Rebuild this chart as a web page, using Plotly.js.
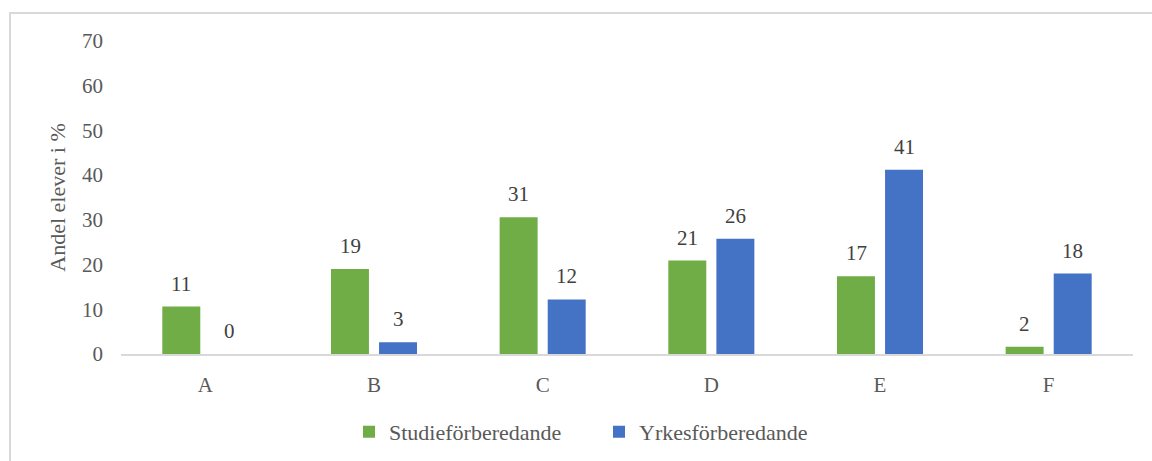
<!DOCTYPE html>
<html>
<head>
<meta charset="utf-8">
<script src="https://cdn.plot.ly/plotly-3.0.1.min.js"></script>
<style>
html,body{margin:0;padding:0;background:#fff;overflow:hidden;}
#frame{position:absolute;left:9px;top:12px;width:1300px;height:600px;border-left:2px solid #d9d9d9;border-top:2px solid #d9d9d9;box-sizing:border-box;}
#chart{position:absolute;left:0;top:0;width:1152px;height:461px;}
</style>
</head>
<body>
<div id="frame"></div>
<div id="chart"></div>
<script>
const categories = ["A", "B", "C", "D", "E", "F"];
const studie = [10.6, 19.0, 30.6, 20.9, 17.4, 1.6];
const yrkes = [0.0, 2.6, 12.2, 25.8, 41.2, 18.0];
const studieName = "Studieförberedande";
const yrkesName = "Yrkesförberedande";
const yTicks = [0, 10, 20, 30, 40, 50, 60, 70];

const FONT = "Liberation Serif, Times New Roman, serif";
const TXT = "#595959";
const FS = 21;

const traces = [
  {type: "bar", name: studieName, x: categories, y: studie,
   marker: {color: "#70AD47", line: {width: 0}}, hoverinfo: "y"},
  {type: "bar", name: yrkesName, x: categories, y: yrkes,
   marker: {color: "#4472C4", line: {width: 0}}, hoverinfo: "y"}
];

const annotations = [];
categories.forEach((c, i) => {
  annotations.push({x: c, y: studie[i], xref: "x", yref: "y", text: String(Math.round(studie[i])),
    showarrow: false, xshift: -24, yshift: 9, yanchor: "bottom",
    font: {family: FONT, size: FS, color: "#404040"}});
  annotations.push({x: c, y: yrkes[i], xref: "x", yref: "y", text: String(Math.round(yrkes[i])),
    showarrow: false, xshift: 24, yshift: 9, yanchor: "bottom",
    font: {family: FONT, size: FS, color: "#404040"}});
});

const layout = {
  width: 1152, height: 461,
  margin: {l: 121, r: 19, t: 41, b: 107, autoexpand: false},
  paper_bgcolor: "rgba(0,0,0,0)", plot_bgcolor: "rgba(0,0,0,0)",
  font: {family: FONT, size: FS, color: TXT},
  barmode: "group", bargap: 0.43, bargroupgap: 0.21,
  showlegend: true,
  legend: {orientation: "h", x: 0.2253, xanchor: "left", y: -0.249, yanchor: "middle",
    font: {family: FONT, size: 22, color: TXT}, entrywidth: 205, itemwidth: 30},
  xaxis: {showline: true, linecolor: "#d9d9d9", linewidth: 2, ticks: "", showgrid: false,
    tickfont: {family: FONT, size: FS, color: TXT}, ticklabelstandoff: 11, zeroline: false, fixedrange: true},
  yaxis: {range: [0, 70], tickvals: yTicks, showgrid: false, zeroline: false, showline: false,
    ticks: "", tickfont: {family: FONT, size: FS, color: TXT}, ticklabelstandoff: 17, fixedrange: true,
    title: {text: "Andel elever i %", font: {family: FONT, size: 22, color: TXT}, standoff: 10}},
  annotations: annotations
};

Plotly.newPlot("chart", traces, layout, {displayModeBar: false, staticPlot: true});
</script>
</body>
</html>
